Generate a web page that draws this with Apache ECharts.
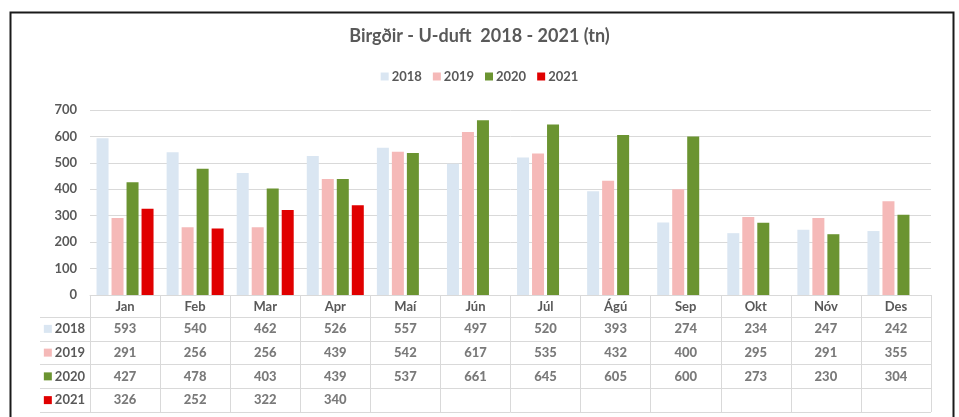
<!DOCTYPE html>
<html>
<head>
<meta charset="utf-8">
<script src="https://cdn.jsdelivr.net/npm/echarts@6/dist/echarts.min.js"></script>
<style>
html,body{margin:0;padding:0;background:#fff;}
#c{width:959px;height:417px;}
</style>
</head>
<body>
<div id="c"></div>
<script>
var months = ['Jan','Feb','Mar','Apr','Maí','Jún','Júl','Ágú','Sep','Okt','Nóv','Des'];
var years = ['2018','2019','2020','2021'];
var v2018 = [593,540,462,526,557,497,520,393,274,234,247,242];
var v2019 = [291,256,256,439,542,617,535,432,400,295,291,355];
var v2020 = [427,478,403,439,537,661,645,605,600,273,230,304];
var v2021 = [326,252,322,340,null,null,null,null,null,null,null,null];
var yTicks = [0,100,200,300,400,500,600,700];

var values = [v2018, v2019, v2020, v2021];
var colors = ['#DAE6F2','#F5B9B8','#6B9431','#E00000'];
var txt = '#595959';
var gridC = '#D9D9D9';
var FONT = 'Lato';

var chart = echarts.init(document.getElementById('c'), null, {renderer:'canvas'});

var series = [];
years.forEach(function(y, r){
  series.push({
    name: y, type: 'bar', xAxisIndex: 0, yAxisIndex: 0,
    data: values[r], barWidth: 12, barGap: '25%',
    itemStyle: {color: colors[r]}, silent: true
  });
});
years.forEach(function(y, r){
  var d = [];
  values[r].forEach(function(v, i){ if (v !== null) d.push([i, r, v]); });
  series.push({
    name: 't' + y, type: 'scatter', xAxisIndex: 1, yAxisIndex: 1,
    data: d, symbolSize: 1, itemStyle: {color: 'rgba(0,0,0,0)'}, silent: true,
    label: {show: true, position: 'inside', formatter: function(p){ return String(p.value[2]); },
      color: txt, fontFamily: FONT, fontWeight: 900, fontSize: 13, textBorderWidth: 0}
  });
});

var rich = {t: {color: txt, fontFamily: FONT, fontWeight: 'bold', fontSize: 13, padding: [0,0,0,3]}};
colors.forEach(function(c, i){ rich['s' + i] = {width: 8, height: 8, backgroundColor: c}; });

chart.setOption({
  animation: false,
  title: {text: 'Birgðir - U-duft  2018 - 2021 (tn)', left: 'center', top: 22,
    textStyle: {color: txt, fontFamily: FONT, fontWeight: 'bold', fontSize: 18}},
  legend: {data: years, top: 65, left: 'center', icon: 'rect', itemWidth: 8, itemHeight: 8, itemGap: 11,
    textStyle: {color: txt, fontFamily: FONT, fontWeight: 'bold', fontSize: 13, padding: [0,0,0,-2]}},
  grid: [
    {left: 90, right: 28, top: 110, height: 185},
    {left: 90, right: 28, top: 317, height: 95}
  ],
  xAxis: [
    {type: 'category', gridIndex: 0, data: months,
      axisLine: {show: true, lineStyle: {color: gridC}},
      axisTick: {show: true, length: 117, interval: 0, lineStyle: {color: gridC}},
      axisLabel: {color: txt, fontFamily: FONT, fontWeight: 'bold', fontSize: 13, margin: 5, interval: 0, lineHeight: 14}},
    {type: 'category', gridIndex: 1, data: months, position: 'top',
      axisLine: {show: false}, axisTick: {show: false}, axisLabel: {show: false}, splitLine: {show: false}}
  ],
  yAxis: [
    {type: 'value', gridIndex: 0, min: yTicks[0], max: yTicks[yTicks.length-1], interval: 100,
      axisLine: {show: false}, axisTick: {show: false},
      splitLine: {lineStyle: {color: gridC}},
      axisLabel: {color: txt, fontFamily: FONT, fontWeight: 'bold', fontSize: 13, margin: 13}},
    {type: 'category', gridIndex: 1, data: years, inverse: true,
      axisLine: {show: false},
      axisTick: {show: true, length: 50, lineStyle: {color: gridC}},
      splitLine: {show: true, lineStyle: {color: gridC}},
      axisLabel: {margin: 5, rich: rich, formatter: function(v, i){ return '{s' + i + '|}{t|' + v + '}'; }}},
    {type: 'category', gridIndex: 1, data: years, inverse: true, offset: 50,
      axisLine: {show: true, lineStyle: {color: gridC}}, axisTick: {show: false}, axisLabel: {show: false}}
  ],
  graphic: [
    {type: 'rect', left: 8, top: 10, silent: true,
      shape: {width: 943, height: 420},
      style: {fill: 'none', stroke: '#1a1a1a', lineWidth: 2}}
  ],
  series: series
});
</script>
</body>
</html>
